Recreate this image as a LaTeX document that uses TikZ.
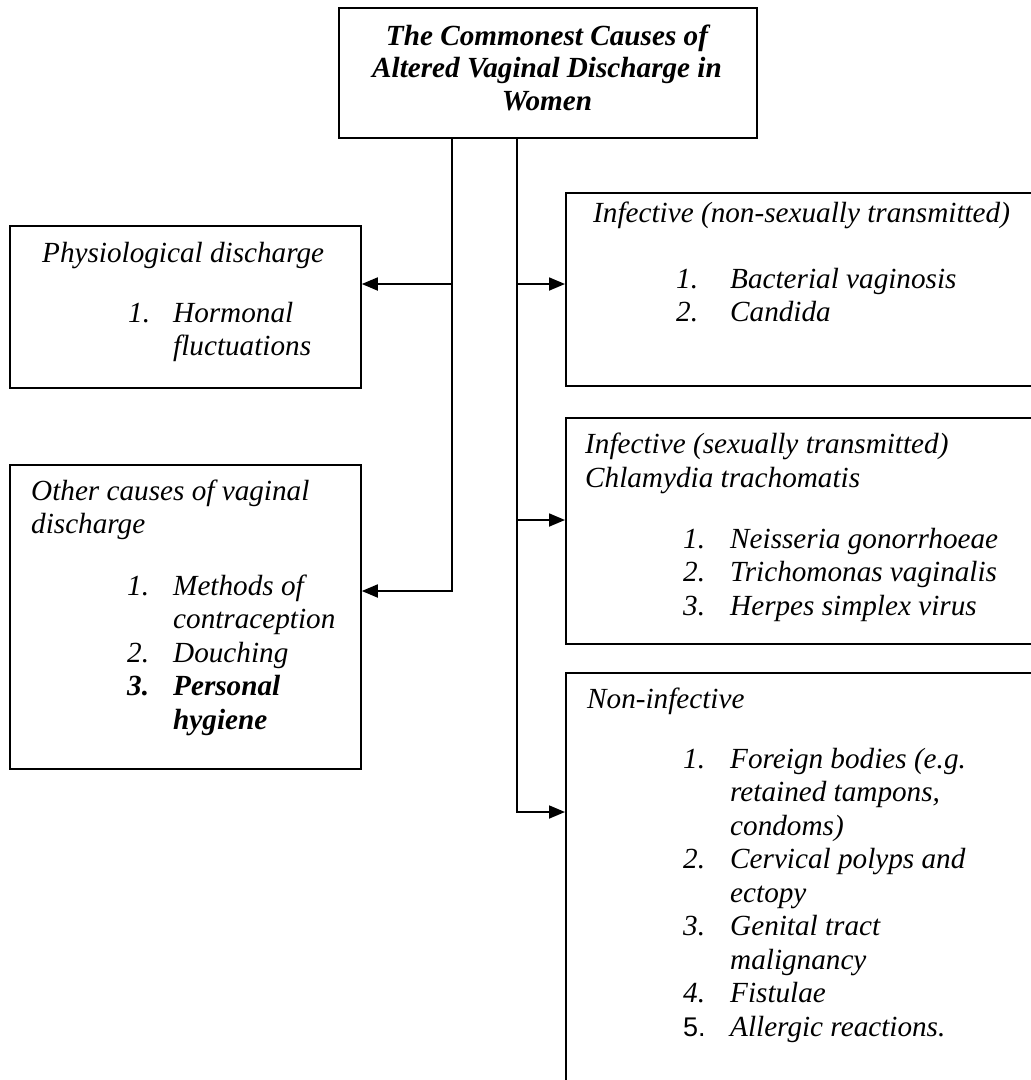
\documentclass[tikz,border=0pt]{standalone}
\usepackage{fontspec}
\setmainfont{Liberation Serif}
\newfontfamily\arialfont{Liberation Sans}
\usetikzlibrary{arrows.meta}
\begin{document}
\begin{tikzpicture}[x=1pt,y=-1pt,
  box/.style={draw, line width=1.8pt, rectangle, inner sep=0pt, anchor=north west},
  txt/.style={anchor=base west, inner sep=0pt, font=\fontsize{29.2}{33.6}\selectfont\itshape},
  btxt/.style={anchor=base west, inner sep=0pt, font=\fontsize{29.2}{33.6}\selectfont\bfseries\itshape},
  ttl/.style={anchor=base, inner sep=0pt, font=\fontsize{29.2}{33.6}\selectfont\bfseries\itshape},
  conn/.style={line width=1.8pt},
  arr/.style={conn, -{Triangle[length=16pt,width=13pt]}}]
\useasboundingbox (0,0) rectangle (1031,1080);
\clip (0,0) rectangle (1031,1080);
\fill[white] (0,0) rectangle (1031,1080);

% boxes
\node[box, minimum width=418pt, minimum height=130pt] (top) at (338,7) {};
\node[box, minimum width=351pt, minimum height=162pt] (phys) at (9,225) {};
\node[box, minimum width=351pt, minimum height=304pt] (other) at (9,464) {};
\node[box, minimum width=480pt, minimum height=193pt] (inf1) at (565,192) {};
\node[box, minimum width=480pt, minimum height=226pt] (inf2) at (565,417) {};
\node[box, minimum width=480pt, minimum height=440pt] (noninf) at (565,672) {};

% junction coordinates
\coordinate (jL) at (452,0);
\coordinate (jR) at (517,0);
\coordinate (yP) at (0,284);
\coordinate (yO) at (0,591);
\coordinate (yS) at (0,520);
\coordinate (yN) at (0,812);

% connectors
\draw[arr] (top.south -| jL) |- (other.east |- yO);
\draw[arr] (jL |- yP) -- (phys.east |- yP);
\draw[arr] (top.south -| jR) |- (noninf.west |- yN);
\draw[arr] (jR |- yP) -- (inf1.west |- yP);
\draw[arr] (jR |- yS) -- (inf2.west |- yS);

% title
\node[ttl] (t1) at (547,45) {The Commonest Causes of};
\node[ttl] (t2) at (547,77) {Altered Vaginal Discharge in};
\node[ttl] (t3) at (547,110) {Women};

% physiological
\node[txt] (p0) at (42,262) {Physiological discharge};
\node[txt] (p1n) at (128,322) {1.};
\node[txt] (p1) at (173,322) {Hormonal};
\node[txt] (p1b) at (173,355) {fluctuations};

% other causes
\node[txt] (o0) at (31,500) {Other causes of vaginal};
\node[txt] (o0b) at (31,533) {discharge};
\node[txt] (o1n) at (127,595) {1.};
\node[txt] (o1) at (173,595) {Methods of};
\node[txt] (o1b) at (173,628.5) {contraception};
\node[txt] (o2n) at (127,662) {2.};
\node[txt] (o2) at (173,662) {Douching};
\node[btxt] (o3n) at (127,695.5) {3.};
\node[btxt] (o3) at (173,695.5) {Personal};
\node[btxt] (o3b) at (173,729) {hygiene};

% infective non-sexual
\node[txt] (i0) at (593,222) {Infective (non-sexually transmitted)};
\node[txt] (i1n) at (676,288) {1.};
\node[txt] (i1) at (730,288) {Bacterial vaginosis};
\node[txt] (i2n) at (676,321.5) {2.};
\node[txt] (i2) at (730,321.5) {Candida};

% infective sexual
\node[txt] (s0) at (585,453) {Infective (sexually transmitted)};
\node[txt] (s0b) at (585,487) {Chlamydia trachomatis};
\node[txt] (s1n) at (683,548) {1.};
\node[txt] (s1) at (730,548) {Neisseria gonorrhoeae};
\node[txt] (s2n) at (683,581.5) {2.};
\node[txt] (s2) at (730,581.5) {Trichomonas vaginalis};
\node[txt] (s3n) at (683,615) {3.};
\node[txt] (s3) at (730,615) {Herpes simplex virus};

% non-infective
\node[txt] (n0) at (587,708) {Non-infective};
\node[txt] (n1n) at (683,768) {1.};
\node[txt] (n1) at (730,768) {Foreign bodies (e.g.};
\node[txt] (n1b) at (730,801.5) {retained tampons,};
\node[txt] (n1c) at (730,835) {condoms)};
\node[txt] (n2n) at (683,868.5) {2.};
\node[txt] (n2) at (730,868.5) {Cervical polyps and};
\node[txt] (n2b) at (730,902) {ectopy};
\node[txt] (n3n) at (683,935.5) {3.};
\node[txt] (n3) at (730,935.5) {Genital tract};
\node[txt] (n3b) at (730,969) {malignancy};
\node[txt] (n4n) at (683,1002.5) {4.};
\node[txt] (n4) at (730,1002.5) {Fistulae};
\node[txt, font=\fontsize{27}{33.6}\selectfont\arialfont] (n5n) at (683,1036) {5.};
\node[txt] (n5) at (730,1036) {Allergic reactions.};
\end{tikzpicture}
\end{document}
